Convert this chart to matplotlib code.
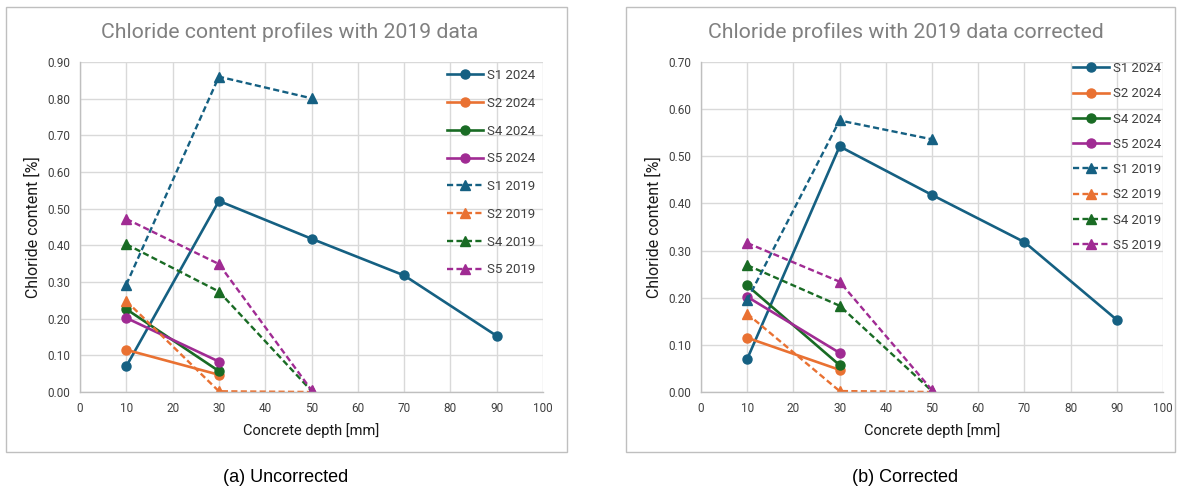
import matplotlib
matplotlib.use("Agg")
import matplotlib.pyplot as plt
from matplotlib.patches import Rectangle

# ---- data -------------------------------------------------------------
depth_2024_s1 = [10, 30, 50, 70, 90]
depth_2024_short = [10, 30]
depth_2019 = [10, 30, 50]

s1_2024 = [0.070, 0.521, 0.418, 0.318, 0.153]
s2_2024 = [0.115, 0.047]
s4_2024 = [0.226, 0.057]
s5_2024 = [0.202, 0.083]

# 2019 profiles as originally reported
s1_2019_raw = [0.293, 0.860, 0.801]
s2_2019_raw = [0.248, 0.002, 0.000]
s4_2019_raw = [0.403, 0.274, 0.003]
s5_2019_raw = [0.472, 0.349, 0.005]

# 2019 profiles after correction
s1_2019_cor = [0.195, 0.576, 0.536]
s2_2019_cor = [0.166, 0.002, 0.000]
s4_2019_cor = [0.269, 0.183, 0.002]
s5_2019_cor = [0.316, 0.234, 0.004]

x_ticks = [0, 10, 20, 30, 40, 50, 60, 70, 80, 90, 100]
y_ticks_left = [0.0, 0.1, 0.2, 0.3, 0.4, 0.5, 0.6, 0.7, 0.8, 0.9]
y_ticks_right = [0.0, 0.1, 0.2, 0.3, 0.4, 0.5, 0.6, 0.7]

titles = ["Chloride content profiles with 2019 data",
          "Chloride profiles with 2019 data corrected"]
captions = ["(a) Uncorrected", "(b) Corrected"]
x_label = "Concrete depth [mm]"
y_label = "Chloride content [%]"

colors = {"S1": "#156082", "S2": "#E97132", "S4": "#196B24", "S5": "#A02B93"}

# ---- figure -----------------------------------------------------------
W, H = 1178, 490
fig = plt.figure(figsize=(W / 100, H / 100), dpi=100)
FONT = ["Roboto", "DejaVu Sans"]


def fx(px):
    return px / W


def fy(py):
    return 1 - py / H


def draw_panel(ax, series19, yticks, legend_top, legend_left, legend_spacing):
    ax.set_xlim(0, 100)
    ax.set_ylim(yticks[0], yticks[-1])
    ax.set_xticks(x_ticks)
    ax.set_yticks(yticks)
    ax.set_yticklabels([f"{v:.2f}" for v in yticks])
    ax.grid(True, color="#D9D9D9", linewidth=1.0)
    ax.set_axisbelow(True)
    for side in ("top", "right"):
        ax.spines[side].set_visible(False)
    for side in ("left", "bottom"):
        ax.spines[side].set_color("#BFBFBF")
        ax.spines[side].set_linewidth(1.0)
    ax.tick_params(length=0, pad=7, labelsize=8.5, labelcolor="#404040")
    for lbl in ax.get_xticklabels() + ax.get_yticklabels():
        lbl.set_family(FONT)
    ax.set_xlabel(x_label, fontsize=10.5, color="#1A1A1A", family=FONT, labelpad=6)
    ax.set_ylabel(y_label, fontsize=11.5, color="#1A1A1A", family=FONT, labelpad=5)

    solid = dict(linewidth=1.9, marker="o", markersize=6.5)
    ax.plot(depth_2024_s1, s1_2024, color=colors["S1"], label="S1 2024", **solid)
    ax.plot(depth_2024_short, s2_2024, color=colors["S2"], label="S2 2024", **solid)
    ax.plot(depth_2024_short, s4_2024, color=colors["S4"], label="S4 2024", **solid)
    ax.plot(depth_2024_short, s5_2024, color=colors["S5"], label="S5 2024", **solid)

    dashed = dict(linewidth=1.7, marker="^", markersize=7, dashes=(2.6, 1.4))
    for key, vals in zip(["S1", "S2", "S4", "S5"], series19):
        ax.plot(depth_2019, vals, color=colors[key], label=f"{key} 2019", **dashed)

    leg = ax.legend(loc="upper left",
                    bbox_to_anchor=(fx(legend_left), fy(legend_top)),
                    bbox_transform=fig.transFigure,
                    frameon=False, borderpad=0, borderaxespad=0,
                    handlelength=2.75, handletextpad=0.25,
                    labelspacing=legend_spacing,
                    prop={"family": FONT, "size": 9.5})
    for t in leg.get_texts():
        t.set_color("#404040")
    return ax


ax1 = fig.add_axes([fx(80), fy(392), fx(543) - fx(80), fy(62) - fy(392)])
draw_panel(ax1, [s1_2019_raw, s2_2019_raw, s4_2019_raw, s5_2019_raw],
           y_ticks_left, legend_top=69, legend_left=447, legend_spacing=1.12)

ax2 = fig.add_axes([fx(701), fy(392), fx(1163) - fx(701), fy(62) - fy(392)])
draw_panel(ax2, [s1_2019_cor, s2_2019_cor, s4_2019_cor, s5_2019_cor],
           y_ticks_right, legend_top=62, legend_left=1073, legend_spacing=0.93)

# chart-area borders
for x0, x1 in [(6, 567), (626, 1175)]:
    fig.add_artist(Rectangle((fx(x0), fy(452)), fx(x1) - fx(x0), fy(7) - fy(452),
                             transform=fig.transFigure, fill=False,
                             edgecolor="#BFBFBF", linewidth=1.0))

# chart titles
fig.text(fx(290), fy(32), titles[0], ha="center", va="center",
         fontsize=15.3, color="#808080", family=FONT)
fig.text(fx(906), fy(32), titles[1], ha="center", va="center",
         fontsize=15.3, color="#808080", family=FONT)

# panel captions
fig.text(fx(286), fy(477), captions[0], ha="center", va="center",
         fontsize=13, color="#000000", family=["Liberation Sans", "DejaVu Sans"])
fig.text(fx(905), fy(477), captions[1], ha="center", va="center",
         fontsize=13, color="#000000", family=["Liberation Sans", "DejaVu Sans"])

fig.savefig("out.png", dpi=100, facecolor="white")
